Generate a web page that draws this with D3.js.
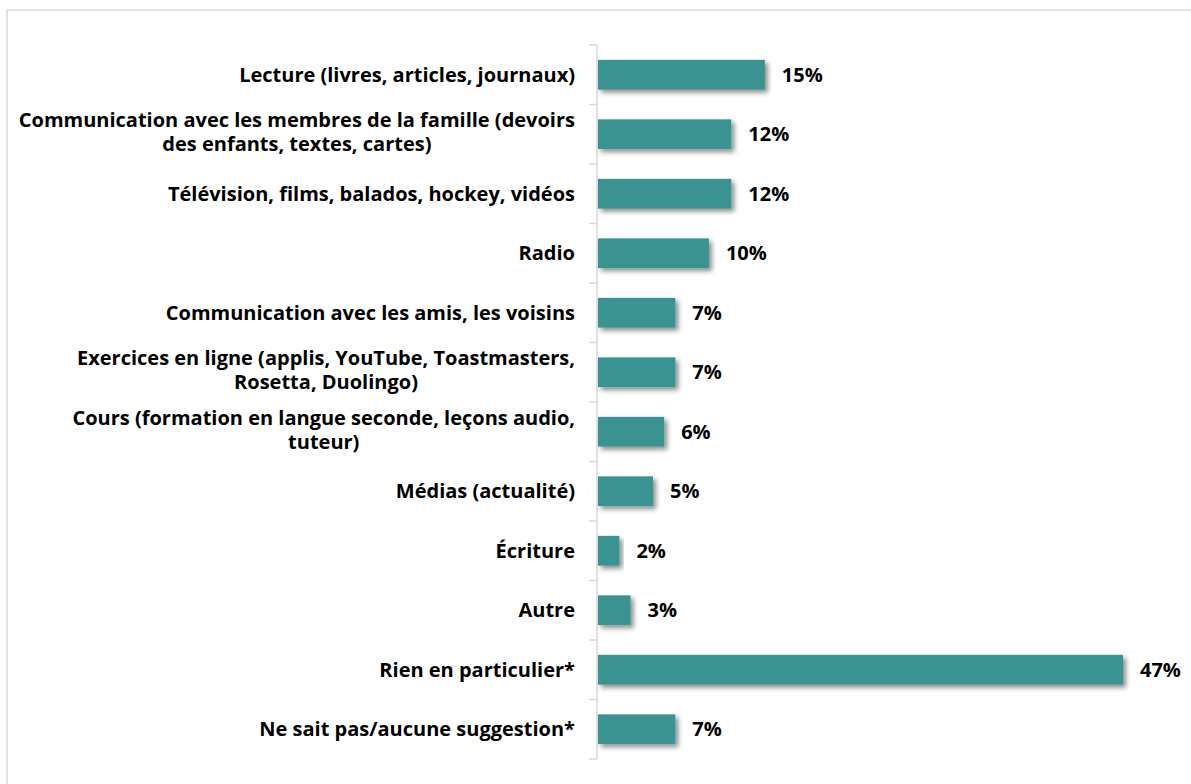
<!DOCTYPE html>
<html lang="fr">
<head>
<meta charset="UTF-8">
<script src="https://cdn.jsdelivr.net/npm/d3@7"></script>
<style>
    body { margin: 0; background: #fff; }
    svg { display: block; }
    .cat, .val { font-family: "Open Sans", sans-serif; font-weight: bold; fill: #000; }
</style>
</head>
<body>
<div id="chart"></div>
<script>
    // ---------------- data ----------------
    const categories = [
        ["Lecture (livres, articles, journaux)"],
        ["Communication avec les membres de la famille (devoirs", "des enfants, textes, cartes)"],
        ["Télévision, films, balados, hockey, vidéos"],
        ["Radio"],
        ["Communication avec les amis, les voisins"],
        ["Exercices en ligne (applis, YouTube, Toastmasters,", "Rosetta, Duolingo)"],
        ["Cours (formation en langue seconde, leçons audio,", "tuteur)"],
        ["Médias (actualité)"],
        ["Écriture"],
        ["Autre"],
        ["Rien en particulier*"],
        ["Ne sait pas/aucune suggestion*"]
    ];
    const values = [15, 12, 12, 10, 7, 7, 6, 5, 2, 3, 47, 7];

    // ---------------- layout ----------------
    const W = 1191, H = 784;
    const axisX = 597, plotTop = 45, plotBottom = 759;
    const fontSize = 20;

    const svg = d3.select("#chart").append("svg")
        .attr("width", W).attr("height", H);

    const defs = svg.append("defs");
    const f = defs.append("filter").attr("id", "shadow")
        .attr("x", "-10%").attr("y", "-30%").attr("width", "130%").attr("height", "180%");
    f.append("feDropShadow")
        .attr("dx", 3).attr("dy", 3).attr("stdDeviation", 2.5)
        .attr("flood-color", "#000").attr("flood-opacity", 0.45);

    // outer border
    svg.append("rect")
        .attr("x", 7).attr("y", 10).attr("width", W).attr("height", H)
        .attr("fill", "none").attr("stroke", "#e2e2e2").attr("stroke-width", 2);

    const idx = d3.range(categories.length);
    const y = d3.scaleBand().domain(idx).range([plotTop, plotBottom]).paddingInner(0.5).paddingOuter(0.25);
    const x = d3.scaleLinear().domain([0, 47]).range([axisX, 1123]);

    // axis
    const band = (plotBottom - plotTop) / categories.length;
    svg.append("line")
        .attr("x1", axisX).attr("x2", axisX).attr("y1", plotTop).attr("y2", plotBottom)
        .attr("stroke", "#d9d9d9").attr("stroke-width", 1.5);
    svg.selectAll(".tick").data(d3.range(categories.length + 1)).enter().append("line")
        .attr("x1", axisX - 8).attr("x2", axisX)
        .attr("y1", d => plotTop + d * band).attr("y2", d => plotTop + d * band)
        .attr("stroke", "#d9d9d9").attr("stroke-width", 1.5);

    // bars
    svg.selectAll(".bar").data(values).enter().append("rect")
        .attr("class", "bar")
        .attr("x", x(0) + 1)
        .attr("y", (d, i) => y(i))
        .attr("width", d => x(d) - x(0) - 1)
        .attr("height", y.bandwidth())
        .attr("fill", "#3a9391")
        .attr("filter", "url(#shadow)");

    // value labels
    svg.selectAll(".val").data(values).enter().append("text")
        .attr("class", "val")
        .attr("x", d => x(d) + 17)
        .attr("y", (d, i) => y(i) + y.bandwidth() / 2)
        .attr("dy", "0.35em")
        .attr("font-size", fontSize)
        .text(d => d + "%");

    // category labels (multi-line centred on each other, block right-aligned)
    const labelRight = 575, lineH = 24;
    categories.forEach((lines, i) => {
        const cy = y(i) + y.bandwidth() / 2 - (lines.length - 1) * 2;
        const g = svg.append("g");
        const texts = lines.map((t, j) => g.append("text")
            .attr("class", "cat")
            .attr("font-size", fontSize)
            .attr("y", cy + (j - (lines.length - 1) / 2) * lineH)
            .attr("dy", "0.35em")
            .text(t));
        const widths = texts.map(t => t.node().getComputedTextLength());
        const maxW = d3.max(widths);
        const centre = labelRight - maxW / 2;
        texts.forEach(t => t.attr("x", centre).attr("text-anchor", "middle"));
    });
</script>
</body>
</html>
